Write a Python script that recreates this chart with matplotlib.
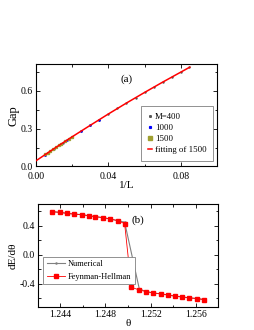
import matplotlib
matplotlib.use("Agg")
import matplotlib.pyplot as plt
from matplotlib.ticker import MultipleLocator

plt.rcParams['font.family'] = ['Liberation Serif', 'DejaVu Serif']

# ---- panel (a): gap vs 1/L ----
inv_L_400 = [0.0050, 0.0100, 0.0150, 0.0200, 0.0250, 0.0300, 0.0350, 0.0400,
             0.0450, 0.0500, 0.0550, 0.0600, 0.0650, 0.0700, 0.0750, 0.0800, 0.0845]
gap_400 = [0.094, 0.142, 0.190, 0.236, 0.282, 0.327, 0.372, 0.417,
           0.461, 0.504, 0.546, 0.588, 0.629, 0.670, 0.710, 0.750, 0.789]
inv_L_1000 = [0.0050, 0.0080, 0.0110, 0.0140, 0.0170, 0.0200, 0.0250, 0.0300, 0.0350]
gap_1000 = [0.094, 0.123, 0.151, 0.180, 0.208, 0.236, 0.282, 0.327, 0.372]
inv_L_1500 = [0.0050, 0.0065, 0.0080, 0.0095, 0.0110, 0.0125, 0.0140, 0.0160, 0.0180, 0.0200]
gap_1500 = [0.097, 0.111, 0.126, 0.140, 0.154, 0.168, 0.182, 0.201, 0.220, 0.238]
fit_x = [0.000, 0.010, 0.020, 0.030, 0.040, 0.050, 0.060, 0.070, 0.085]
fit_y = [0.045, 0.142, 0.236, 0.327, 0.417, 0.504, 0.588, 0.670, 0.789]

# ---- panel (b): dE/dtheta ----
theta = [1.2433, 1.2440, 1.2446, 1.2452, 1.2459, 1.2465, 1.2471, 1.2478, 1.2484, 1.2491, 1.2497,
         1.2503, 1.2510, 1.2516, 1.2522, 1.2529, 1.2535, 1.2542, 1.2548, 1.2554, 1.2561, 1.2567]
dE_fh = [0.594, 0.585, 0.571, 0.562, 0.553, 0.539, 0.526, 0.512, 0.494, 0.471, 0.430,
         -0.448, -0.485, -0.507, -0.526, -0.539, -0.553, -0.571, -0.581, -0.594, -0.603, -0.617]
theta_num = [1.2433, 1.2440, 1.2446, 1.2452, 1.2459, 1.2465, 1.2471, 1.2478, 1.2484, 1.2491, 1.2497,
             1.2510, 1.2516, 1.2522, 1.2529, 1.2535, 1.2542, 1.2548, 1.2554, 1.2561, 1.2567]
dE_num = [0.594, 0.585, 0.571, 0.562, 0.553, 0.539, 0.526, 0.512, 0.494, 0.471, 0.450,
          -0.470, -0.507, -0.526, -0.539, -0.553, -0.571, -0.581, -0.594, -0.603, -0.617]

fig = plt.figure(figsize=(2.55, 3.3), dpi=100)
ax1 = fig.add_axes([0.141, 0.4955, 0.710, 0.311])
ax2 = fig.add_axes([0.148, 0.0697, 0.708, 0.312])

ax1.plot(inv_L_400, gap_400, ls='none', marker='s', ms=0.7, color='#555555', label='M=400', zorder=2)
ax1.plot(inv_L_1000, gap_1000, ls='none', marker='s', ms=0.8, color='blue', label='1000', zorder=2)
ax1.plot(inv_L_1500, gap_1500, ls='none', marker='s', ms=1.4, color='#a0a030', label='1500', zorder=2)
ax1.plot(fit_x, fit_y, color='red', lw=1.1, label='fitting of 1500', zorder=3)
ax1.set_xlim(0, 0.1)
ax1.set_ylim(0, 0.815)
ax1.set_xticks([0.0, 0.04, 0.08])
ax1.set_xticklabels(['0.00', '0.04', '0.08'])
ax1.xaxis.set_minor_locator(MultipleLocator(0.02))
ax1.set_yticks([0.0, 0.3, 0.6])
ax1.set_yticklabels(['0.0', '0.3', '0.6'])
ax1.yaxis.set_minor_locator(MultipleLocator(0.15))
ax1.set_xlabel('1/L', fontsize=8, labelpad=0)
ax1.set_ylabel('Gap', fontsize=9, labelpad=1)
ax1.text(0.50, 0.853, '(a)', transform=ax1.transAxes, fontsize=8, ha='center', va='center')
leg1 = ax1.legend(loc='upper left', bbox_to_anchor=(0.555, 0.635), fontsize=6.3,
                  handlelength=0.5, handletextpad=0.3, borderpad=0.8, labelspacing=0.35,
                  fancybox=False, edgecolor='gray', framealpha=1, markerscale=1.6)
leg1.get_frame().set_linewidth(0.6)

ax2.plot(theta_num, dE_num, color='gray', lw=0.8, marker='o', ms=1.3, mfc='none',
         mew=0.5, label='Numerical')
ax2.plot(theta, dE_fh, color='red', lw=0.6, marker='s', ms=3.0, label='Feynman-Hellman')
ax2.set_xlim(1.242, 1.258)
ax2.set_ylim(-0.72, 0.70)
ax2.set_xticks([1.244, 1.248, 1.252, 1.256])
ax2.set_xticklabels(['1.244', '1.248', '1.252', '1.256'])
ax2.xaxis.set_minor_locator(MultipleLocator(0.002))
ax2.set_yticks([-0.4, 0.0, 0.4])
ax2.set_yticklabels(['-0.4', '0.0', '0.4'])
ax2.yaxis.set_minor_locator(MultipleLocator(0.2))
ax2.set_xlabel('θ', fontsize=8, labelpad=0)
ax2.set_ylabel('dE/dθ', fontsize=8, labelpad=1)
ax2.text(0.557, 0.845, '(b)', transform=ax2.transAxes, fontsize=8, ha='center', va='center')
leg2 = ax2.legend(loc='upper left', bbox_to_anchor=(0.008, 0.53), fontsize=6.0,
                  handlelength=2.2, handletextpad=0.3, borderpad=0.45, labelspacing=0.5,
                  fancybox=False, edgecolor='gray', framealpha=1)
leg2.get_frame().set_linewidth(0.6)

for ax in (ax1, ax2):
    ax.tick_params(which='both', direction='in', top=True, right=True, labelsize=7)
    ax.tick_params(which='major', length=3, width=0.6)
    ax.tick_params(which='minor', length=1.8, width=0.6)
    for s in ax.spines.values():
        s.set_linewidth(0.8)
ax1.tick_params(axis='x', pad=4)
ax1.tick_params(axis='y', pad=2)
ax2.tick_params(pad=2)

fig.savefig('out.png', dpi=100)
